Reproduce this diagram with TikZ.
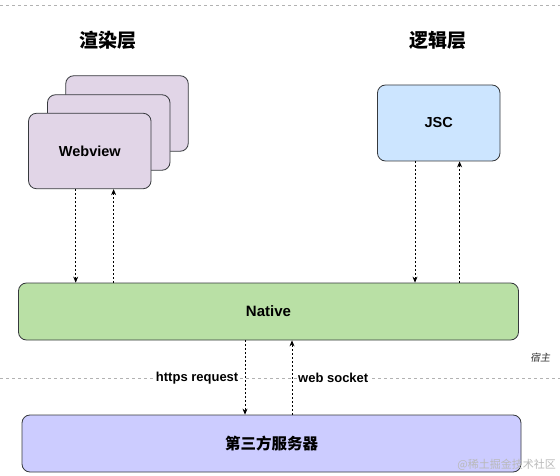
\documentclass[tikz,border=0pt]{standalone}
\usepackage{fontspec}
\setmainfont{Liberation Sans}
\newfontfamily\cjk{Noto Sans CJK SC}
\newfontfamily\cjkit[FakeSlant=0.2]{Noto Sans CJK SC}
\usetikzlibrary{arrows.meta}
\definecolor{wvfill}{HTML}{E1D5E7}
\definecolor{jscfill}{HTML}{CCE5FF}
\definecolor{natfill}{HTML}{B9E0A5}
\definecolor{srvfill}{HTML}{CCCCFF}
\definecolor{edge}{HTML}{36393D}
\tikzset{
  box/.style={draw=edge, line width=0.8pt, rounded corners=8pt, inner sep=0pt},
  wvbox/.style={box, fill=wvfill, minimum width=122.5pt, minimum height=75.5pt},
  lbl/.style={font=\bfseries\fontsize{14.5}{16}\selectfont},
  elbl/.style={font=\bfseries\fontsize{13}{15}\selectfont, fill=white, inner sep=1pt},
  head/.style={font=\cjk\bfseries\fontsize{19}{21}\selectfont},
  link/.style={draw=black, line width=0.7pt, dash pattern=on 2pt off 2pt, -{Stealth[length=6pt,width=5pt]}},
  sep/.style={draw=gray!60, line width=0.5pt, dash pattern=on 3pt off 3pt},
}
\begin{document}
\begin{tikzpicture}[x=1pt,y=-1pt]
\useasboundingbox[fill=white] (0,0) rectangle (560,476);
% separators
\draw[sep] (0,5) -- (560,5);
\draw[sep] (0,378) -- (560,378);
% headings
\node[head] (h1) at (108,40) {渲染层};
\node[head] (h2) at (438,40) {逻辑层};
% webview stack
\node[wvbox] (wv3) at (127,113.5) {};
\node[wvbox] (wv2) at (108.75,132.5) {};
\node[wvbox, lbl] (wv) at (89.8,151) {Webview};
% JSC
\node[box, fill=jscfill, minimum width=122.5pt, minimum height=76pt, lbl] (jsc) at (438.75,123) {JSC};
% Native
\node[box, fill=natfill, minimum width=500pt, minimum height=57pt, lbl, font=\bfseries\fontsize{15}{17}\selectfont] (nat) at (268.5,311.5) {Native};
% server
\node[box, fill=srvfill, minimum width=499pt, minimum height=57pt, font=\cjk\bfseries\fontsize{15.5}{17}\selectfont] (srv) at (271.5,443.5) {第三方服务器};
% host label
\node[font=\cjkit\fontsize{10}{12}\selectfont, text=black!80] (host) at (540,358) {宿主};
% arrows webview
\draw[link] (wv.south -| 75.7,0) -- (nat.north -| 75.7,0);
\draw[link] (nat.north -| 113.6,0) -- (wv.south -| 113.6,0);
% arrows jsc
\draw[link] (jsc.south -| 415,0) -- (nat.north -| 415,0);
\draw[link] (nat.north -| 459.6,0) -- (jsc.south -| 459.6,0);
% server arrows
\draw[link] (nat.south -| 245,0) -- (srv.north -| 245,0);
\draw[link] (srv.north -| 292,0) -- (nat.south -| 292,0);
\node[elbl, anchor=east] (l1) at (239.5,378) {https request};
\node[elbl, anchor=west] (l2) at (297,378) {web socket};
% watermark
\node[font=\cjk\fontsize{11}{13}\selectfont, text=gray!55, anchor=east, inner sep=0pt] (wm) at (556,465) {@稀土掘金技术社区};
\end{tikzpicture}
\end{document}
